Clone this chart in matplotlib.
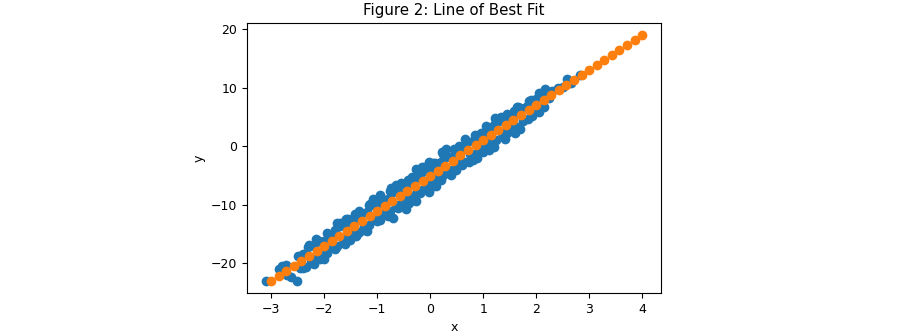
import matplotlib
matplotlib.use("Agg")
import matplotlib.pyplot as plt

x_obs = [-3.10, -2.52, -2.62, -2.70, -2.80, -2.72, -2.85, -2.40, -2.28, -2.08,
         -1.80, -1.70, -1.62, -1.78, -1.60, -1.52, -1.36,
         -1.58, -1.42, -1.14, -1.08, -0.95, -0.74, -0.64, -0.42, -0.24, -0.11,
         -1.27, -0.95, -0.71, -0.45, -0.27, -0.02, 0.11,
         -0.27, -0.02, 0.23, 0.30, 0.55, 0.86, 0.95, 1.20, 1.26,
         0.48, 0.73, 0.89, 1.11, 1.42, 1.61,
         1.17, 1.23, 1.33, 1.58, 1.64, 1.86, 2.05, 2.17, 1.70, 1.92,
         2.30, 2.42, 2.58, 2.83, 2.25, 2.50, 2.65,
         -2.5, -2.4, -2.3, -2.2, -2.1, -2.0, -1.9, -1.8, -1.7, -1.6,
         -1.5, -1.4, -1.3, -1.2, -1.1, -1.0, -0.9, -0.8, -0.7, -0.6,
         -0.5, -0.4, -0.3, -0.2, -0.1, 0.0, 0.1, 0.2, 0.3, 0.4,
         0.5, 0.6, 0.7, 0.8, 0.9, 1.0, 1.1, 1.2, 1.3, 1.4,
         1.5, 1.6, 1.7, 1.8, 1.9, 2.0, 2.1, 2.2,
         -2.45, -2.35, -2.25, -2.15, -2.05, -1.95, -1.85, -1.75, -1.65, -1.55,
         -1.45, -1.35, -1.25, -1.15, -1.05, -0.95, -0.85, -0.75, -0.65, -0.55,
         -0.45, -0.35, -0.25, -0.15, -0.05, 0.05, 0.15, 0.25, 0.35, 0.45,
         0.55, 0.65, 0.75, 0.85, 0.95, 1.05, 1.15, 1.25, 1.35, 1.45,
         1.55, 1.65, 1.75, 1.85, 1.95, 2.05, 2.15,
         -2.15, -1.95, -1.75, -1.55, -1.35, -1.15, -0.95, -0.75, -0.55, -0.35,
         -0.15, 0.05, 0.25, 0.45, 0.65, 0.85, 1.05, 1.25, 1.45, 1.65,
         -2.2, -2.0, -1.8, -1.6, -1.4, -1.2, -1.0, -0.8, -0.6, -0.4,
         -0.2, 0.0, 0.2, 0.4, 0.6, 0.8, 1.0, 1.2, 1.4, 1.6]
y_obs = [-23.0, -23.0, -22.4, -22.0, -20.4, -20.3, -21.0, -20.9, -16.9, -19.3,
         -14.3, -13.2, -13.0, -17.2, -16.2, -16.0, -14.9,
         -12.4, -11.6, -9.8, -9.0, -8.6, -7.2, -6.6, -5.8, -4.0, -3.6,
         -14.3, -12.6, -12.3, -10.7, -9.3, -7.9, -6.8,
         -3.8, -2.6, -1.0, -0.4, 0.0, 1.4, 2.2, 3.7, 4.5,
         -4.0, -2.6, -2.0, -0.6, 1.2, 2.3,
         0.5, 4.8, 5.1, 6.0, 6.8, 7.7, 9.1, 9.8, 2.9, 5.2,
         9.4, 10.0, 11.5, 12.2, 8.3, 10.2, 10.8,
         -18.7, -18.5, -17.2, -17.1, -16.2, -16.2, -15.1, -14.9, -13.6, -13.5,
         -12.6, -12.6, -11.5, -11.3, -10.0, -9.9, -9.0, -9.0, -7.9, -7.7,
         -6.4, -6.3, -5.4, -5.4, -4.3, -4.1, -2.8, -2.7, -1.8, -1.8,
         -0.7, -0.5, 0.8, 0.9, 1.8, 1.8, 2.9, 3.1, 4.4, 4.5,
         5.4, 5.4, 6.5, 6.7, 8.0, 8.1, 9.0, 9.0,
         -20.9, -20.6, -19.4, -19.3, -18.4, -18.3, -17.3, -17.0, -15.8, -15.7,
         -14.8, -14.7, -13.7, -13.4, -12.2, -12.1, -11.2, -11.1, -10.1, -9.8,
         -8.6, -8.5, -7.6, -7.5, -6.5, -6.2, -5.0, -4.9, -4.0, -3.9,
         -2.9, -2.6, -1.4, -1.3, -0.4, -0.3, 0.7, 1.0, 2.2, 2.3,
         3.2, 3.3, 4.3, 4.6, 5.8, 5.9, 6.8,
         -15.8, -14.9, -13.1, -12.4, -11.0, -10.1, -8.3, -7.6, -6.2, -5.3,
         -3.5, -2.8, -1.4, -0.5, 1.3, 2.0, 3.4, 4.3, 5.6, 6.8,
         -20.2, -19.3, -17.6, -16.8, -15.4, -14.5, -12.8, -12.0, -10.6, -9.7,
         -8.0, -7.2, -5.8, -4.9, -3.2, -2.4, -1.0, -0.1, 1.6, 2.4]

# fitted line points (orange)
x_fit = [-3.000, -2.857, -2.714, -2.571, -2.429, -2.286, -2.143, -2.000, -1.857, -1.714,
         -1.571, -1.429, -1.286, -1.143, -1.000, -0.857, -0.714, -0.571, -0.429, -0.286,
         -0.143, 0.000, 0.143, 0.286, 0.429, 0.571, 0.714, 0.857, 1.000, 1.143,
         1.286, 1.429, 1.571, 1.714, 1.857, 2.000, 2.143, 2.286, 2.429, 2.571,
         2.714, 2.857, 3.000, 3.143, 3.286, 3.429, 3.571, 3.714, 3.857, 4.000]
y_fit = [-23.000, -22.143, -21.286, -20.429, -19.571, -18.714, -17.857, -17.000, -16.143, -15.286,
         -14.429, -13.571, -12.714, -11.857, -11.000, -10.143, -9.286, -8.429, -7.571, -6.714,
         -5.857, -5.000, -4.143, -3.286, -2.429, -1.571, -0.714, 0.143, 1.000, 1.857,
         2.714, 3.571, 4.429, 5.286, 6.143, 7.000, 7.857, 8.714, 9.571, 10.429,
         11.286, 12.143, 13.000, 13.857, 14.714, 15.571, 16.429, 17.286, 18.143, 19.000]

plt.rcParams['font.size'] = 9
fig = plt.figure(figsize=(9.12, 3.34), dpi=100)
ax = fig.add_axes([247 / 912, 41 / 334, 414 / 912, 270 / 334])
ax.scatter(x_obs, y_obs)
ax.scatter(x_fit, y_fit)
ax.set_title("Figure 2: Line of Best Fit")
ax.set_xlabel("x")
ax.set_ylabel("y")
fig.savefig("out.png", dpi=100)
